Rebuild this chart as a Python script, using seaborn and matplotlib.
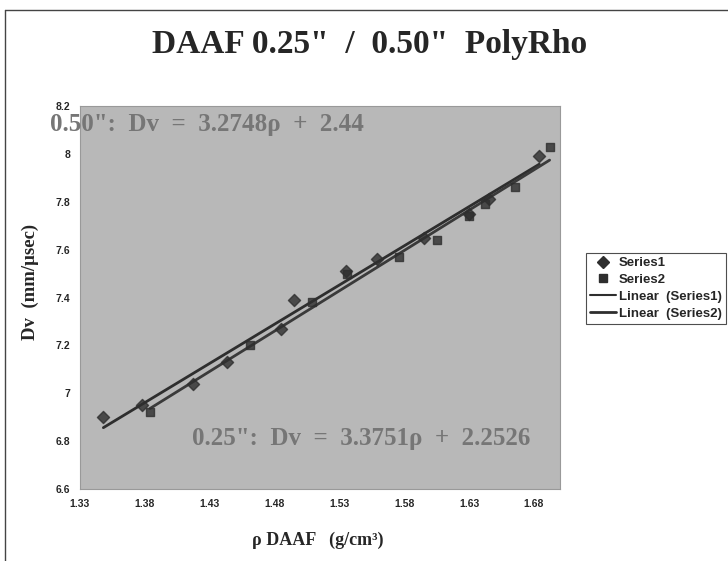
import matplotlib
matplotlib.use("Agg")
import matplotlib.pyplot as plt
from matplotlib.lines import Line2D
from matplotlib.ticker import FormatStrFormatter, MultipleLocator
import pandas as pd
import seaborn as sns

# data
rho_s1 = [1.348, 1.378, 1.417, 1.443, 1.485, 1.495, 1.535, 1.559, 1.595, 1.630, 1.645, 1.684]
dv_s1 = [6.90, 6.95, 7.04, 7.13, 7.27, 7.39, 7.51, 7.56, 7.65, 7.75, 7.81, 7.99]
rho_s2 = [1.384, 1.461, 1.509, 1.536, 1.576, 1.605, 1.630, 1.642, 1.665, 1.692]
dv_s2 = [6.92, 7.20, 7.38, 7.50, 7.57, 7.64, 7.74, 7.79, 7.86, 8.03]

title = 'DAAF 0.25"  /  0.50"  PolyRho'
eq_050 = '0.50":  Dv  =  3.2748\u03c1  +  2.44'
eq_025 = '0.25":  Dv  =  3.3751\u03c1  +  2.2526'
series_names = ["Series1", "Series2", "Linear  (Series1)", "Linear  (Series2)"]

s1 = pd.DataFrame({"rho": rho_s1, "dv": dv_s1})
s2 = pd.DataFrame({"rho": rho_s2, "dv": dv_s2})

sns.set_style("white")
plt.rcParams["font.family"] = ["Liberation Serif", "DejaVu Serif"]
sans = ["Liberation Sans", "DejaVu Sans"]

dark = "#2e2e2e"
fig = plt.figure(figsize=(7.28, 5.61), dpi=100)
ax = fig.add_axes([80 / 728, 1 - 489 / 561, 480 / 728, 383 / 561])
ax.set_facecolor("#b8b8b8")

sns.regplot(data=s1, x="rho", y="dv", ax=ax, ci=None, marker="D",
            scatter_kws={"s": 38, "color": dark, "zorder": 3},
            line_kws={"color": dark, "lw": 2})
sns.regplot(data=s2, x="rho", y="dv", ax=ax, ci=None, marker="s",
            scatter_kws={"s": 38, "color": dark, "zorder": 3},
            line_kws={"color": "#3a3a3a", "lw": 2})

ax.set_xlim(1.33, 1.70)
ax.set_ylim(6.6, 8.2)
ax.yaxis.set_major_locator(MultipleLocator(0.2))
ax.set_xticks([1.33, 1.38, 1.43, 1.48, 1.53, 1.58, 1.63, 1.68])
ax.xaxis.set_major_formatter(FormatStrFormatter("%g"))
ax.yaxis.set_major_formatter(FormatStrFormatter("%g"))
ax.tick_params(axis="both", length=3, width=0.8, color="#666666", direction="out",
               labelsize=7.5, pad=4)
for lab in ax.get_xticklabels() + ax.get_yticklabels():
    lab.set_family(sans)
    lab.set_fontweight("bold")
for sp in ax.spines.values():
    sp.set_color("#999999")
    sp.set_linewidth(0.8)

ax.set_xlabel("\u03c1 DAAF   (g/cm\u00b3)", fontsize=13, fontweight="bold")
ax.set_ylabel("Dv  (mm/\u03bcsec)", fontsize=13.5, fontweight="bold")
ax.xaxis.set_label_coords((318 - 80) / 480, -(540 - 489) / 383)
ax.xaxis.label.set_va("center")
ax.yaxis.set_label_coords(-(80 - 30) / 480, (489 - 282) / 383)
ax.yaxis.label.set_va("center")

fig.text(370 / 728, 1 - 45 / 561, title, ha="center", va="center",
         fontsize=24, fontweight="bold")
fig.text(50 / 728, 1 - 125 / 561, eq_050, ha="left", va="center",
         fontsize=18, fontweight="bold", color="#767676")
fig.text(192 / 728, 1 - 438 / 561, eq_025, ha="left", va="center",
         fontsize=18, fontweight="bold", color="#767676")

handles = [
    Line2D([], [], marker="D", color=dark, linestyle="none", markersize=6),
    Line2D([], [], marker="s", color=dark, linestyle="none", markersize=6),
    Line2D([], [], color=dark, lw=1.5),
    Line2D([], [], color=dark, lw=2),
]
leg = fig.legend(handles, series_names, loc="upper left",
                 bbox_to_anchor=(586 / 728, 1 - 253 / 561),
                 prop={"family": sans, "weight": "bold", "size": 9.5},
                 frameon=True, fancybox=False, edgecolor="#222222",
                 handlelength=2.0, handletextpad=0.2, borderpad=0.3,
                 labelspacing=0.35, borderaxespad=0)
leg.get_frame().set_linewidth(0.8)

# scanned page border
fig.add_artist(Line2D([5 / 728, 5 / 728], [0, 1 - 10 / 561], color="#444444", lw=1))
fig.add_artist(Line2D([5 / 728, 1], [1 - 10 / 561, 1 - 10 / 561], color="#444444", lw=1))

fig.savefig("out.png", dpi=100)
